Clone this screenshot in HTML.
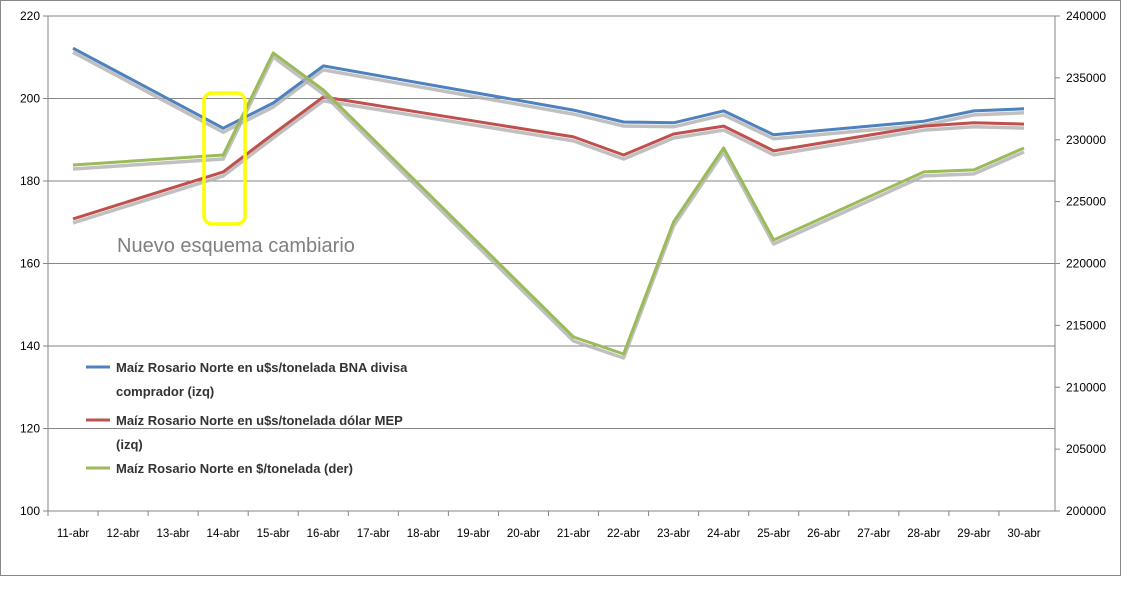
<!DOCTYPE html>
<html><head><meta charset="utf-8"><style>
body{margin:0;background:#fff;font-family:"Liberation Sans",sans-serif}
svg text{font-family:"Liberation Sans",sans-serif}
</style></head><body>
<svg width="1128" height="587" viewBox="0 0 1128 587">
<rect x="0.5" y="0.5" width="1120" height="575" fill="#fff" stroke="#888"/>
<g id="grid"></g><g id="axes"></g><g id="series"></g>
<rect x="204" y="93" width="41" height="131" rx="8" fill="none" stroke="#ffff00" stroke-width="3.5"/>
<text x="117" y="252" font-size="20" fill="#7f7f7f">Nuevo esquema cambiario</text>
<g font-size="13" font-weight="bold" fill="#333">
<line x1="86" y1="367" x2="110" y2="367" stroke="#4f81bd" stroke-width="3"/>
<text x="116" y="372">Maíz Rosario Norte en u$s/tonelada BNA divisa</text>
<text x="116" y="396">comprador (izq)</text>
<line x1="86" y1="420" x2="110" y2="420" stroke="#c0504d" stroke-width="3"/>
<text x="116" y="425">Maíz Rosario Norte en u$s/tonelada dólar MEP</text>
<text x="116" y="449">(izq)</text>
<line x1="86" y1="468" x2="110" y2="468" stroke="#9bbb59" stroke-width="3"/>
<text x="116" y="473">Maíz Rosario Norte en $/tonelada (der)</text>
</g>
</svg>
<script>
const categories=["11-abr","12-abr","13-abr","14-abr","15-abr","16-abr","17-abr","18-abr","19-abr","20-abr","21-abr","22-abr","23-abr","24-abr","25-abr","26-abr","27-abr","28-abr","29-abr","30-abr"];
const bna=[212.2,null,null,192.8,198.9,207.9,null,null,null,null,197.2,194.3,194.1,197,191.2,null,null,194.5,197,197.5];
const mep=[170.8,null,null,182.2,191.4,200.4,null,null,null,null,190.7,186.3,191.4,193.3,187.3,null,null,193.3,194.1,193.8];
const pesos=[227960,null,null,228770,237010,234020,null,null,null,null,214060,212690,223360,229330,221900,null,null,227400,227560,229330];
const leftTicks=[100,120,140,160,180,200,220];
const rightTicks=[200000,205000,210000,215000,220000,225000,230000,235000,240000];
const NS="http://www.w3.org/2000/svg";
const X0=48,X1=1049,XR=1055,Y0=16,Y1=511;
const bw=(X1-X0)/categories.length;
const xs=i=>X0+bw*(i+0.5);
const yl=v=>Y1-(v-100)/120*(Y1-Y0);
const yr=v=>Y1-(v-200000)/40000*(Y1-Y0);
function mk(tag,attrs,parent){const e=document.createElementNS(NS,tag);for(const k in attrs)e.setAttribute(k,attrs[k]);parent.appendChild(e);return e;}
const grid=document.getElementById('grid'),axes=document.getElementById('axes'),ser=document.getElementById('series');
leftTicks.forEach(t=>{
 const l=mk('line',{x1:X0-5,x2:XR,y1:yl(t),y2:yl(t),stroke:'#868686','stroke-width':1},grid);
 
 
 const tx=mk('text',{x:X0-8,y:yl(t)+4,'text-anchor':'end','font-size':12,fill:'#000'},axes);tx.textContent=t;
 
 
});
rightTicks.forEach(t=>{
 const tk=mk('line',{x1:XR,x2:XR+5,y1:yr(t),y2:yr(t),stroke:'#868686'},axes);
 
 
 const tx=mk('text',{x:XR+11,y:yr(t)+4,'font-size':12,fill:'#000'},axes);tx.textContent=t;
 
 
});
[X0,XR].forEach(x=>{const l=mk('line',{x1:x,x2:x,y1:Y0,y2:Y1,stroke:'#868686'},axes);
 
 });
categories.forEach((c,i)=>{
 const tk=mk('line',{x1:X0+bw*i,x2:X0+bw*i,y1:Y1,y2:Y1+5,stroke:'#868686'},axes);
 
 
 const tx=mk('text',{x:xs(i),y:Y1+26,'text-anchor':'middle','font-size':11.5,fill:'#000'},axes);tx.textContent=c;
 
 
});
function draw(arr,yf,color,name){
 const pts=[];arr.forEach((v,i)=>{if(v!==null)pts.push([xs(i),yf(v)]);});
 const d=pts.map((p,i)=>(i?'L':'M')+p[0].toFixed(1)+' '+p[1].toFixed(1)).join(' ');
 const s=mk('path',{d:d,fill:'none',stroke:'#b0b0b0','stroke-width':3.5,transform:'translate(0,4)','stroke-linejoin':'round',opacity:0.8},ser);
 
 
 const p=mk('path',{d:d,fill:'none',stroke:color,'stroke-width':3,'stroke-linejoin':'round'},ser);
 
 
}
draw(bna,yl,'#4f81bd','bna-series');
draw(mep,yl,'#c0504d','mep-series');
draw(pesos,yr,'#9bbb59','pesos-series');
</script>
</body></html>
